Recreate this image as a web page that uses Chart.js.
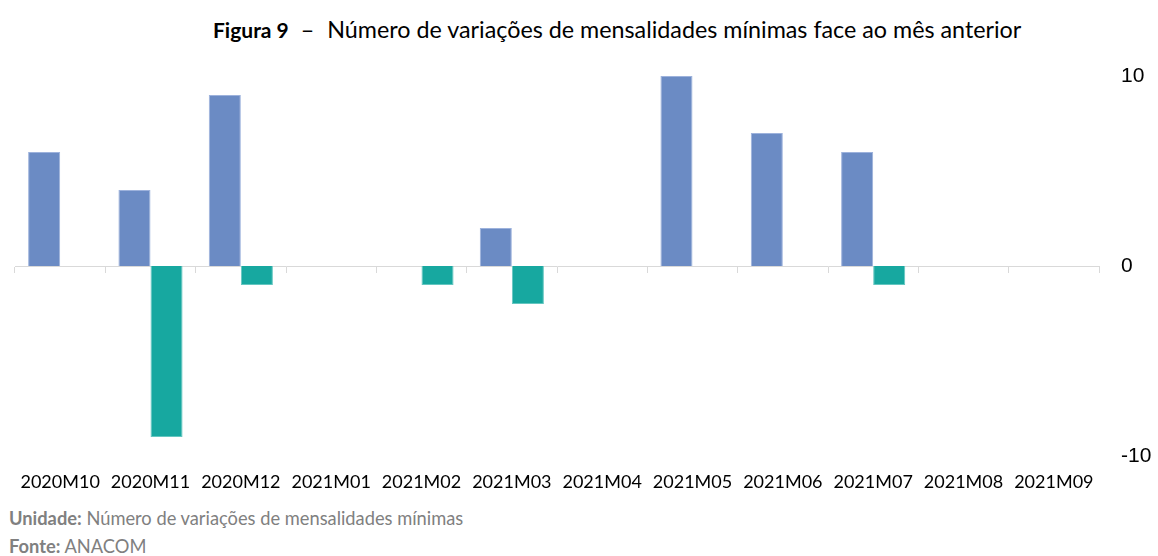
<!DOCTYPE html>
<html>
<head>
<meta charset="utf-8">
<script src="https://cdn.jsdelivr.net/npm/chart.js@4"></script>
<style>
    html, body { margin: 0; padding: 0; background: #fff; }
    #wrap { position: relative; width: 1158px; height: 556px; overflow: hidden; }
    #chart { position: absolute; left: 0; top: 0; }
    .title { position: absolute; top: 15px; left: 213px; font-family: Lato, sans-serif; font-size: 23.3px; color: #000; white-space: nowrap; }
    .title b { font-size: 21px; }
    .title .dash { margin: 0 13px 0 12px; }
    .note { position: absolute; left: 9px; font-family: Lato, sans-serif; font-size: 18.3px; line-height: 22px; color: #808080; white-space: nowrap; }
</style>
</head>
<body>
<div id="wrap">
    <div class="title"><b>Figura 9</b><span class="dash">–</span>Número de variações de mensalidades mínimas face ao mês anterior</div>
    <canvas id="chart" width="1158" height="500"></canvas>
    <div class="note" style="top:507px"><b>Unidade:</b> Número de variações de mensalidades mínimas</div>
    <div class="note" style="top:535px"><b>Fonte:</b> ANACOM</div>
</div>
<script>
const months = ['2020M10', '2020M11', '2020M12', '2021M01', '2021M02', '2021M03',
    '2021M04', '2021M05', '2021M06', '2021M07', '2021M08', '2021M09'];
const increases = [6, 4, 9, 0, 0, 2, 0, 10, 7, 6, 0, 0];
const decreases = [0, -9, -1, 0, -1, -2, 0, 0, 0, -1, 0, 0];
const yTicks = [-10, 0, 10];

document.addEventListener('DOMContentLoaded', () => {
    const ctx = document.getElementById('chart');

    new Chart(ctx, {
        type: 'bar',
        data: {
            labels: months,
            datasets: [
                {
                    label: 'Aumentos',
                    data: increases,
                    backgroundColor: '#6b8bc4',
                    borderColor: '#9db2dc',
                    borderWidth: 1,
                },
                {
                    label: 'Reduções',
                    data: decreases,
                    backgroundColor: '#17a8a0',
                    borderColor: '#64c6c0',
                    borderWidth: 1,
                },
            ],
        },
        options: {
            responsive: false,
            animation: false,
            categoryPercentage: 0.71,
            barPercentage: 1,
            layout: {
                padding: { top: 76, left: 15, right: 0, bottom: 0 },
            },
            scales: {
                x: {
                    grid: { display: false, drawTicks: false },
                    border: { display: false },
                    ticks: {
                        color: '#000',
                        padding: 15,
                        maxRotation: 0,
                        autoSkip: false,
                        font: { family: 'Lato', size: 18 },
                    },
                    afterFit: (scale) => { scale.height = 44; },
                },
                // zero line with small ticks between the months
                zero: {
                    type: 'category',
                    axis: 'x',
                    position: { y: 0 },
                    ticks: { display: false },
                    grid: {
                        offset: true,
                        drawOnChartArea: false,
                        tickLength: 6,
                        color: '#d9d9d9',
                    },
                    border: { color: '#d9d9d9' },
                },
                y: {
                    position: 'right',
                    min: -10,
                    max: 10,
                    afterBuildTicks: (scale) => {
                        scale.ticks = yTicks.map((value) => ({ value }));
                    },
                    grid: { display: false, drawTicks: false },
                    border: { display: false },
                    ticks: {
                        color: '#000',
                        padding: 22,
                        font: { family: 'Liberation Sans', size: 21 },
                    },
                    afterFit: (scale) => { scale.width = 59; },
                },
            },
            plugins: {
                legend: { display: false },
                tooltip: { enabled: false },
            },
        },
    });
});
</script>
</body>
</html>
